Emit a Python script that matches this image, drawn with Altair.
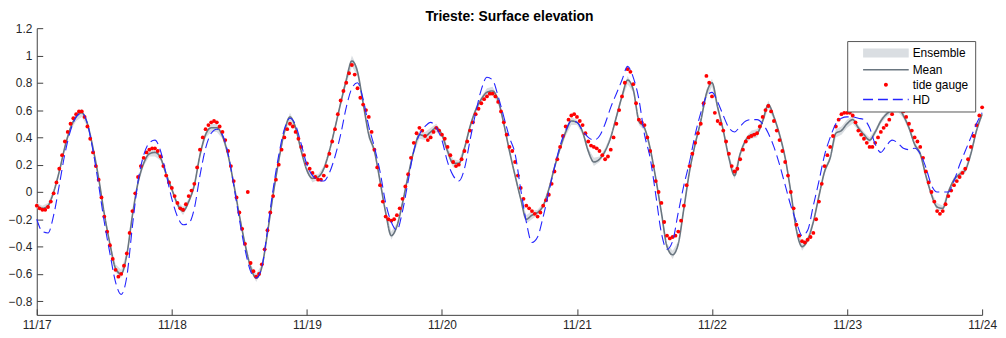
import altair as alt
import pandas as pd

day_labels = ["11/17", "11/18", "11/19", "11/20", "11/21", "11/22", "11/23", "11/24"]
y_ticks = [-0.8, -0.6, -0.4, -0.2, 0, 0.2, 0.4, 0.6, 0.8, 1, 1.2]
series_names = ["Ensemble", "Mean", "tide gauge", "HD"]

# tide gauge, every 30 minutes from 11/17 00:00
tide_gauge = [
    -0.10, -0.12, -0.13, -0.13, -0.11, -0.07, -0.01, 0.07, 0.17, 0.27, 0.37, 0.44,
    0.50, 0.54, 0.57, 0.59, 0.59, 0.55, 0.48, 0.39, 0.29, 0.19, 0.09, -0.04,
    -0.18, -0.29, -0.39, -0.49, -0.57, -0.62, -0.60, -0.54, -0.45, -0.30, -0.14, -0.01,
    0.11, 0.19, 0.25, 0.29, 0.31, 0.32, 0.32, 0.30, 0.26, 0.19, 0.12, 0.07,
    0.03, -0.03, -0.08, -0.12, -0.13, -0.09, -0.03, 0.01, 0.06, 0.18, 0.31, 0.40,
    0.46, 0.49, 0.51, 0.52, 0.51, 0.48, 0.44, 0.38, 0.30, 0.19, 0.08, -0.04,
    -0.15, -0.27, -0.38, 0.00, -0.52, -0.58, -0.62, -0.60, -0.53, -0.42, -0.28, -0.15,
    -0.03, 0.09, 0.20, 0.31, 0.40, 0.46, 0.50, 0.48, 0.44, 0.39, 0.33, 0.27,
    0.21, 0.17, 0.14, 0.11, 0.09, 0.09, 0.12, 0.19, 0.28, 0.37, 0.46, 0.57,
    0.67, 0.74, 0.80, 0.87, 0.93, 0.86, 0.76, 0.69, 0.64, 0.60, 0.55, 0.44,
    0.31, 0.18, 0.05, -0.07, -0.18, -0.20, -0.21, -0.20, -0.17, -0.12, -0.05, 0.04,
    0.13, 0.25, 0.36, 0.43, 0.47, 0.45, 0.41, 0.38, 0.40, 0.44, 0.47, 0.45,
    0.42, 0.39, 0.33, 0.27, 0.22, 0.19, 0.20, 0.24, 0.30, 0.37, 0.45, 0.51,
    0.57, 0.61, 0.65, 0.68, 0.70, 0.72, 0.72, 0.70, 0.66, 0.59, 0.51, 0.42,
    0.33, 0.30, 0.22, 0.12, 0.03, -0.05, -0.10, -0.12, -0.14, -0.16, -0.18, -0.15,
    -0.10, -0.06, -0.02, 0.06, 0.15, 0.24, 0.33, 0.41, 0.48, 0.53, 0.56, 0.57,
    0.55, 0.52, 0.49, 0.43, 0.37, 0.34, 0.33, 0.32, 0.30, 0.27, 0.24, 0.26,
    0.31, 0.40, 0.50, 0.60, 0.70, 0.80, 0.90, 0.88, 0.79, 0.65, 0.53, 0.51,
    0.49, 0.40, 0.30, 0.19, 0.08, 0.00, -0.08, -0.22, -0.32, -0.34, -0.33, -0.32,
    -0.29, -0.21, -0.10, 0.05, 0.19, 0.28, 0.36, 0.43, 0.50, 0.65, 0.85, 0.80,
    0.70, 0.58, 0.52, 0.50, 0.45, 0.37, 0.28, 0.19, 0.15, 0.17, 0.24, 0.31,
    0.37, 0.40, 0.41, 0.42, 0.43, 0.48, 0.55, 0.60, 0.63, 0.59, 0.52, 0.45,
    0.38, 0.30, 0.22, 0.12, 0.00, -0.12, -0.24, -0.32, -0.36, -0.37, -0.35, -0.33,
    -0.30, -0.20, -0.07, 0.06, 0.19, 0.27, 0.33, 0.41, 0.48, 0.53, 0.57, 0.58,
    0.58, 0.58, 0.56, 0.51, 0.45, 0.42, 0.39, 0.36, 0.33, 0.33, 0.36, 0.40,
    0.44, 0.47, 0.49, 0.53, 0.57, 0.60, 0.62, 0.61, 0.59, 0.55, 0.50, 0.45,
    0.40, 0.37, 0.33, 0.25, 0.15, 0.07, 0.00, -0.07, -0.14, -0.16, -0.14, -0.09,
    -0.03, 0.01, 0.05, 0.08, 0.11, 0.14, 0.17, 0.24, 0.33, 0.41, 0.49, 0.56,
    0.62,
]

# ensemble mean, hourly
ens_mean = [
    -0.10, -0.12, -0.10, 0.00, 0.15, 0.33, 0.47, 0.55, 0.58, 0.50, 0.32, 0.10,
    -0.16, -0.38, -0.56, -0.60, -0.46, -0.17, 0.07, 0.21, 0.28, 0.29, 0.25, 0.13,
    0.02, -0.09, -0.14, -0.07, 0.05, 0.27, 0.42, 0.47, 0.47, 0.41, 0.27, 0.06,
    -0.17, -0.38, -0.55, -0.63, -0.55, -0.30, -0.02, 0.23, 0.44, 0.55, 0.47, 0.30,
    0.16, 0.10, 0.11, 0.17, 0.30, 0.47, 0.65, 0.82, 0.96, 0.88, 0.65, 0.42,
    0.30, 0.08, -0.15, -0.32, -0.25, -0.08, 0.12, 0.30, 0.42, 0.41, 0.44, 0.47,
    0.42, 0.30, 0.21, 0.21, 0.32, 0.48, 0.60, 0.68, 0.73, 0.74, 0.67, 0.50,
    0.30, 0.12, -0.05, -0.20, -0.17, -0.15, -0.10, 0.02, 0.18, 0.32, 0.44, 0.52,
    0.51, 0.44, 0.30, 0.22, 0.24, 0.30, 0.40, 0.55, 0.70, 0.82, 0.75, 0.52,
    0.47, 0.32, 0.10, -0.15, -0.40, -0.46, -0.38, -0.12, 0.15, 0.35, 0.52, 0.72,
    0.80, 0.62, 0.45, 0.25, 0.12, 0.28, 0.38, 0.42, 0.43, 0.52, 0.64, 0.55,
    0.42, 0.25, 0.00, -0.28, -0.40, -0.35, -0.22, -0.03, 0.15, 0.25, 0.43, 0.45,
    0.50, 0.53, 0.47, 0.42, 0.38, 0.44, 0.52, 0.57, 0.60, 0.62, 0.56, 0.47,
    0.35, 0.28, 0.12, -0.02, -0.11, -0.12, 0.00, 0.09, 0.13, 0.16, 0.28, 0.45,
    0.57,
]

# half-width of the ensemble envelope, hourly
ens_spread = [
    0.02, 0.02, 0.02, 0.02, 0.02, 0.02, 0.02, 0.03, 0.03, 0.02, 0.02, 0.02,
    0.02, 0.02, 0.03, 0.03, 0.02, 0.02, 0.02, 0.02, 0.02, 0.03, 0.02, 0.02,
    0.02, 0.02, 0.03, 0.02, 0.02, 0.02, 0.02, 0.03, 0.03, 0.02, 0.02, 0.02,
    0.02, 0.02, 0.02, 0.03, 0.02, 0.02, 0.02, 0.02, 0.02, 0.03, 0.02, 0.02,
    0.02, 0.03, 0.02, 0.02, 0.02, 0.02, 0.02, 0.03, 0.04, 0.03, 0.02, 0.03,
    0.02, 0.02, 0.02, 0.03, 0.02, 0.02, 0.02, 0.02, 0.03, 0.03, 0.03, 0.03,
    0.02, 0.03, 0.03, 0.02, 0.02, 0.02, 0.02, 0.02, 0.03, 0.03, 0.02, 0.02,
    0.02, 0.02, 0.02, 0.03, 0.03, 0.02, 0.02, 0.02, 0.02, 0.02, 0.03, 0.03,
    0.02, 0.02, 0.02, 0.03, 0.02, 0.02, 0.02, 0.02, 0.02, 0.03, 0.02, 0.03,
    0.02, 0.02, 0.02, 0.02, 0.02, 0.03, 0.02, 0.02, 0.02, 0.02, 0.02, 0.03,
    0.03, 0.02, 0.02, 0.02, 0.03, 0.02, 0.02, 0.03, 0.03, 0.02, 0.03, 0.02,
    0.02, 0.02, 0.02, 0.02, 0.03, 0.02, 0.02, 0.02, 0.02, 0.02, 0.03, 0.03,
    0.03, 0.03, 0.02, 0.02, 0.02, 0.02, 0.02, 0.02, 0.02, 0.03, 0.02, 0.02,
    0.02, 0.02, 0.02, 0.02, 0.03, 0.02, 0.02, 0.02, 0.02, 0.02, 0.02, 0.02,
    0.02,
]

# HD model, hourly
hd_model = [
    -0.20, -0.29, -0.30, -0.17, 0.05, 0.28, 0.45, 0.55, 0.58, 0.50, 0.30, 0.05,
    -0.22, -0.45, -0.66, -0.75, -0.62, -0.25, 0.08, 0.27, 0.36, 0.38, 0.30, 0.13,
    -0.05, -0.18, -0.24, -0.23, -0.12, 0.12, 0.32, 0.43, 0.46, 0.42, 0.28, 0.05,
    -0.20, -0.42, -0.58, -0.63, -0.55, -0.28, 0.02, 0.27, 0.46, 0.54, 0.49, 0.35,
    0.20, 0.12, 0.09, 0.08, 0.14, 0.26, 0.42, 0.62, 0.76, 0.80, 0.68, 0.48,
    0.33, 0.15, -0.08, -0.22, -0.28, -0.14, 0.08, 0.30, 0.42, 0.48, 0.51, 0.47,
    0.38, 0.22, 0.12, 0.08, 0.17, 0.38, 0.58, 0.75, 0.84, 0.82, 0.70, 0.55,
    0.40, 0.28, 0.02, -0.22, -0.37, -0.33, -0.18, 0.00, 0.18, 0.34, 0.45, 0.52,
    0.51, 0.45, 0.40, 0.38, 0.41, 0.50, 0.62, 0.72, 0.82, 0.92, 0.84, 0.68,
    0.42, 0.25, -0.02, -0.30, -0.42, -0.36, -0.15, 0.05, 0.22, 0.42, 0.58, 0.70,
    0.73, 0.66, 0.56, 0.47, 0.44, 0.48, 0.52, 0.53, 0.53, 0.50, 0.43, 0.33,
    0.20, 0.05, -0.10, -0.22, -0.32, -0.28, -0.10, 0.08, 0.27, 0.40, 0.50, 0.54,
    0.55, 0.55, 0.54, 0.53, 0.47, 0.35, 0.29, 0.34, 0.38, 0.36, 0.32, 0.31,
    0.32, 0.28, 0.18, 0.05, 0.00, 0.00, 0.00, 0.08, 0.20, 0.30, 0.40, 0.50,
    0.58,
]

hours = list(range(len(ens_mean)))
tide_hours = [i / 2 for i in range(len(tide_gauge))]
x_ticks = [24 * i for i in range(len(day_labels))]

band_df = pd.DataFrame({
    "hour": hours,
    "lo": [m - s for m, s in zip(ens_mean, ens_spread)],
    "hi": [m + s for m, s in zip(ens_mean, ens_spread)],
    "series": "Ensemble",
})
mean_df = pd.DataFrame({"hour": hours, "value": ens_mean, "series": "Mean"})
tide_df = pd.DataFrame({"hour": tide_hours, "value": tide_gauge, "series": "tide gauge"})
hd_df = pd.DataFrame({"hour": hours, "value": hd_model, "series": "HD"})
# empty table: only carries the legend symbol shapes
legend_df = pd.DataFrame({"hour": pd.Series([], dtype=float),
                          "value": pd.Series([], dtype=float),
                          "series": pd.Series([], dtype=str)})

FONT = "Liberation Sans"
AX = "#404040"
W, H = 953, 289

ens_col = "#dadee2"
mean_col = "#6a7680"
tide_col = "#ff0000"
hd_col = "#2424ff"
DASH = [10, 5]

fill_scale = alt.Scale(domain=series_names, range=[ens_col, "transparent", tide_col, "transparent"])
stroke_scale = alt.Scale(domain=series_names, range=["transparent", mean_col, "transparent", hd_col])
dash_scale = alt.Scale(domain=series_names, range=[[1, 0], [1, 0], [1, 0], DASH])
# legend glyphs (unit = 5 px), drawn to the left of the symbol anchor
shape_scale = alt.Scale(domain=series_names, range=[
    "M-8.8,-0.9H0.4V0.9H-8.8Z",
    "M-8.8,0H0.4",
    "M-4.6,0A0.4,0.4,0,1,0,-3.8,0A0.4,0.4,0,1,0,-4.6,0Z",
    "M-8.8,0H0.4",
])

leg = alt.Legend(
    title=None, orient="none", legendX=817, legendY=13, padding=6,
    symbolSize=100, symbolOffset=48, labelOffset=0, symbolStrokeWidth=1.5,
    labelFont=FONT, labelFontSize=12, labelColor="black", rowPadding=3,
    strokeColor="#555555", fillColor="white", labelLimit=200,
)

x_expr = "[" + ",".join("'" + d + "'" for d in day_labels) + "][round(datum.value / 24)]"

xs = alt.Scale(domain=[0, 168], nice=False, zero=False)
ys = alt.Scale(domain=[-0.9, 1.2], nice=False, zero=False)

x_main = alt.Axis(orient="bottom", values=x_ticks, labelExpr=x_expr, ticks=False, tickSize=0,
                  grid=False, title=None, domainColor=AX, labelFont=FONT, labelFontSize=12,
                  labelColor="#262626", labelPadding=5, labelFlush=False, labelOverlap=False)
y_main = alt.Axis(orient="left", values=y_ticks, labelExpr="format(datum.value, '~g')", ticks=False,
                  tickSize=0, grid=False, title=None, domainColor=AX, labelFont=FONT,
                  labelFontSize=12, labelColor="#262626", labelPadding=5, labelOverlap=False)
x_tick = alt.Axis(orient="top", offset=-H, values=x_ticks, labels=False, domain=False,
                  ticks=True, tickSize=6, tickColor=AX, grid=False, title=None)
y_tick = alt.Axis(orient="right", offset=-W, values=y_ticks, labels=False, domain=False,
                  ticks=True, tickSize=6, tickColor=AX, grid=False, title=None)

band = alt.Chart(band_df).mark_area(opacity=1).encode(
    x=alt.X("hour:Q", scale=xs, axis=x_main),
    y=alt.Y("lo:Q", scale=ys, axis=y_main),
    y2="hi:Q",
    fill=alt.Fill("series:N", scale=fill_scale, legend=leg),
)

mean_line = alt.Chart(mean_df).mark_line(strokeWidth=1.6, interpolate="monotone").encode(
    x=alt.X("hour:Q", scale=xs, axis=x_tick),
    y=alt.Y("value:Q", scale=ys, axis=y_tick),
    stroke=alt.Stroke("series:N", scale=stroke_scale, legend=leg),
    strokeDash=alt.StrokeDash("series:N", scale=dash_scale, legend=leg),
)

tide = alt.Chart(tide_df).mark_circle(opacity=1, size=15).encode(
    x=alt.X("hour:Q", scale=xs, axis=None),
    y=alt.Y("value:Q", scale=ys, axis=None),
    fill=alt.Fill("series:N", scale=fill_scale, legend=leg),
)

hd = alt.Chart(hd_df).mark_line(strokeWidth=1.1, interpolate="monotone").encode(
    x=alt.X("hour:Q", scale=xs, axis=None),
    y=alt.Y("value:Q", scale=ys, axis=None),
    stroke=alt.Stroke("series:N", scale=stroke_scale, legend=leg),
    strokeDash=alt.StrokeDash("series:N", scale=dash_scale, legend=leg),
)

legend_glyphs = alt.Chart(legend_df).mark_point().encode(
    x=alt.X("hour:Q", scale=xs, axis=None),
    y=alt.Y("value:Q", scale=ys, axis=None),
    shape=alt.Shape("series:N", scale=shape_scale, legend=leg),
)

chart = alt.layer(band, mean_line, tide, hd, legend_glyphs).resolve_axis(
    x="independent", y="independent"
).properties(
    width=W, height=H,
    padding={"left": 29, "top": 19, "right": 16, "bottom": 22},
    autosize=alt.AutoSizeParams(type="none"),
    title=alt.Title("Trieste: Surface elevation", font=FONT, fontSize=14, fontWeight="bold",
                    color="black", anchor="middle", offset=7, dy=9),
).configure_view(strokeWidth=0)

chart.save("out.html", embed_options={"renderer": "svg", "actions": False})
